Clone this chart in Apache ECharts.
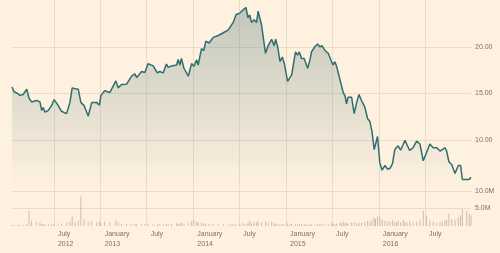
<!DOCTYPE html>
<html>
<head>
<meta charset="utf-8">
<script src="https://cdn.jsdelivr.net/npm/echarts@6/dist/echarts.min.js"></script>
<style>
html,body{margin:0;padding:0;background:#fff1e0;}
#chart{width:500px;height:253px;}
</style>
</head>
<body>
<div id="chart"></div>
<script>
const dates = ['2012-01-18','2012-01-26','2012-02-09','2012-02-18','2012-03-02','2012-03-16','2012-03-25','2012-04-04','2012-04-24','2012-05-07','2012-05-14','2012-05-20','2012-05-27','2012-06-09','2012-06-22','2012-07-02','2012-07-18','2012-07-31','2012-08-20','2012-09-02','2012-09-11','2012-09-22','2012-10-05','2012-10-15','2012-10-28','2012-11-13','2012-11-27','2012-12-16','2012-12-27',
'2013-01-02','2013-01-17','2013-02-06','2013-03-02','2013-03-11','2013-03-24','2013-04-13','2013-05-03','2013-05-16','2013-05-23','2013-06-11','2013-06-24','2013-07-07','2013-07-27','2013-08-12','2013-08-22','2013-09-04','2013-09-17','2013-09-24','2013-10-07','2013-10-27','2013-11-02','2013-11-09','2013-11-15','2013-11-25','2013-12-12','2013-12-25',
'2014-01-03','2014-01-14','2014-01-20','2014-02-02','2014-02-11','2014-02-19','2014-03-04','2014-03-20','2014-04-09','2014-04-29','2014-05-19','2014-05-28','2014-06-07','2014-06-18','2014-07-03','2014-07-16','2014-07-27','2014-08-04','2014-08-11','2014-08-18','2014-08-28','2014-09-07','2014-09-13','2014-09-26','2014-10-12','2014-10-22','2014-11-05','2014-11-15','2014-11-21','2014-11-29','2014-12-08','2014-12-17','2014-12-25',
'2015-01-07','2015-01-16','2015-01-23','2015-02-07','2015-02-15','2015-02-22','2015-03-03','2015-03-13','2015-03-19','2015-03-27','2015-04-05','2015-04-11','2015-04-24','2015-05-05','2015-05-14','2015-05-23','2015-06-03','2015-06-16','2015-06-29','2015-07-05','2015-07-12','2015-07-19','2015-08-01','2015-08-08','2015-08-14','2015-08-21','2015-08-27','2015-09-02','2015-09-16','2015-09-26','2015-10-06','2015-10-15','2015-10-25','2015-11-07','2015-11-18','2015-11-27','2015-12-05','2015-12-14','2015-12-19','2015-12-27',
'2016-01-05','2016-01-14','2016-01-25','2016-02-05','2016-02-14','2016-02-24','2016-03-04','2016-03-11','2016-03-17','2016-03-27','2016-04-06','2016-04-13','2016-04-21','2016-05-02','2016-05-15','2016-05-29','2016-06-11','2016-06-24','2016-07-07','2016-07-20','2016-08-02','2016-08-16','2016-08-29','2016-09-07','2016-09-17','2016-09-24','2016-10-03','2016-10-14','2016-10-27','2016-11-09','2016-11-18','2016-11-25','2016-12-12','2016-12-22','2016-12-29'];

const prices = [15.7,15.2,15.0,14.8,14.9,15.45,14.5,14.1,14.25,14.1,13.2,13.5,13.0,13.2,13.7,14.35,13.7,13.1,12.85,14.05,15.6,15.5,15.45,14.05,13.7,12.6,14.05,14.05,13.75,
14.8,15.3,15.1,16.35,15.6,15.97,16.0,16.85,17.1,16.7,17.35,17.25,18.2,17.95,17.2,17.35,17.2,18.15,17.8,17.95,18.05,18.65,18.05,18.75,17.7,16.85,18.2,
17.9,18.6,18.05,19.8,19.6,20.6,20.4,21.0,21.2,21.5,21.8,22.2,22.6,23.45,23.6,23.95,24.2,23.1,23.4,22.6,22.9,22.6,23.8,22.4,19.3,20.1,20.8,20.1,20.8,20.0,18.4,18.9,18.2,
16.3,16.7,17.0,19.45,19.1,19.45,18.75,18.75,18.6,17.7,18.6,19.45,20.0,20.3,20.0,20.1,19.6,19.3,18.4,18.05,18.4,17.9,16.5,16.3,15.1,14.75,13.9,14.6,14.6,12.85,14.05,14.9,14.25,13.55,12.3,12.0,10.95,9.0,9.55,10.4,
7.6,6.8,7.3,6.9,7.0,7.5,9.0,8.8,9.4,8.95,9.55,10.0,9.5,8.9,9.2,9.9,9.6,7.8,8.7,9.6,9.2,9.2,8.85,9.0,9.2,8.85,7.7,7.4,6.45,7.3,7.3,5.8,5.8,5.8,6.05];

// volume in millions
const volumes = [0.3,0.3,0.3,0.4,0.3,0.5,4.3,1.5,1.2,1.0,0.6,0.5,0.4,0.5,0.4,0.6,0.5,0.8,1.0,1.2,2.8,1.1,1.4,8.4,2.0,1.2,1.4,1.0,1.2,
0.9,1.3,1.0,1.6,1.0,0.6,0.5,0.5,0.6,0.5,0.5,0.6,0.7,0.5,0.5,0.6,0.5,0.6,0.5,0.6,0.7,0.6,0.8,0.9,0.7,0.9,1.4,
1.6,1.3,1.0,0.9,0.8,0.7,0.6,0.6,0.5,0.5,0.4,0.5,0.6,0.5,0.7,0.8,0.6,1.0,1.6,0.8,1.2,1.1,1.3,0.9,1.4,1.0,1.2,0.8,0.7,0.6,0.5,0.6,0.5,
0.8,0.5,0.6,0.5,0.5,0.6,0.5,0.4,0.5,0.4,0.4,0.5,0.4,0.5,0.6,0.7,0.5,0.6,0.9,0.6,0.5,0.7,1.0,0.8,1.2,0.9,0.8,0.7,0.9,1.1,0.8,1.0,0.9,1.1,1.4,1.2,1.8,2.4,2.0,2.8,
2.6,1.8,1.5,1.3,1.2,1.6,1.2,1.0,1.4,1.1,1.7,1.2,1.0,1.5,1.1,1.3,1.8,4.3,3.0,1.6,1.2,1.0,1.1,1.3,1.5,1.8,3.5,2.0,1.8,2.5,3.0,4.8,4.2,3.6,3.0];

const xTicks = ['2012-07-01','2013-01-01','2013-07-01','2014-01-01','2014-07-01','2015-01-01','2015-07-01','2016-01-01','2016-07-01'];
const priceTicks = [10, 15, 20];
const volumeTicks = [5, 10];
const xRange = ['2012-01-18', '2016-12-29'];

const GRID = '#eadccb';
const TEXT = '#77736d';
const FONT = 'Liberation Sans';
const ts = d => +new Date(d + 'T00:00:00Z');
const xTickTimes = xTicks.map(ts);
const MONTHS = ['January','February','March','April','May','June','July','August','September','October','November','December'];

const chart = echarts.init(document.getElementById('chart'), null, {renderer: 'canvas'});
chart.setOption({
  animation: false,
  backgroundColor: '#fff1e0',
  grid: [
    {left: 12, right: 29, top: -5, height: 192},
    {left: 12, right: 29, top: 187, height: 39}
  ],
  xAxis: [
    {
      type: 'value', gridIndex: 0, min: ts(xRange[0]), max: ts(xRange[1]),
      axisLine: {show: false}, axisTick: {show: false, customValues: xTickTimes},
      axisLabel: {show: false, customValues: xTickTimes},
      splitLine: {show: true, lineStyle: {color: GRID, width: 1}}
    },
    {
      type: 'value', gridIndex: 1, min: ts(xRange[0]), max: ts(xRange[1]),
      axisLine: {show: false}, axisTick: {show: false, customValues: xTickTimes},
      splitLine: {show: true, lineStyle: {color: GRID, width: 1}},
      axisLabel: {
        customValues: xTickTimes,
        color: TEXT, fontFamily: FONT, fontSize: 7, lineHeight: 10,
        align: 'left', margin: 3, padding: [0, 0, 0, 4],
        formatter: function (v) {
          const d = new Date(v);
          const m = d.getUTCMonth(), y = d.getUTCFullYear();
          if (m === 0 || v === xTickTimes[0]) return MONTHS[m] + '\n' + y;
          return MONTHS[m];
        }
      }
    }
  ],
  yAxis: [
    {
      type: 'value', gridIndex: 0, position: 'right', min: 5, max: 25, interval: 5,
      axisLine: {show: false}, axisTick: {show: false},
      splitLine: {show: true, lineStyle: {color: ['transparent', GRID, GRID, GRID, 'transparent']}},
      axisLabel: {
        color: TEXT, fontFamily: FONT, fontSize: 7, margin: 4,
        formatter: v => priceTicks.indexOf(v) >= 0 ? v.toFixed(2) : ''
      }
    },
    {
      type: 'value', gridIndex: 1, position: 'right', min: 0, max: 11.14, interval: 5,
      axisLine: {show: false}, axisTick: {show: false},
      splitLine: {show: true, lineStyle: {color: ['transparent', GRID, GRID, 'transparent']}},
      axisLabel: {
        color: TEXT, fontFamily: FONT, fontSize: 7, margin: 4,
        formatter: v => volumeTicks.indexOf(v) >= 0 ? v.toFixed(1) + 'M' : ''
      }
    }
  ],
  series: [
    {
      type: 'line', xAxisIndex: 0, yAxisIndex: 0,
      data: dates.map((d, i) => [ts(d), prices[i]]),
      showSymbol: false, symbol: 'none',
      lineStyle: {color: '#2f6e70', width: 1.5},
      areaStyle: {
        color: new echarts.graphic.LinearGradient(0, 0, 0, 1, [
          {offset: 0, color: 'rgba(60,110,108,0.45)'},
          {offset: 1, color: 'rgba(60,110,108,0.0)'}
        ])
      },
      z: 3
    },
    {
      type: 'bar', xAxisIndex: 1, yAxisIndex: 1,
      data: dates.map((d, i) => [ts(d), volumes[i]]),
      barWidth: 1,
      itemStyle: {color: '#c9beb0'}
    }
  ]
});
</script>
</body>
</html>
